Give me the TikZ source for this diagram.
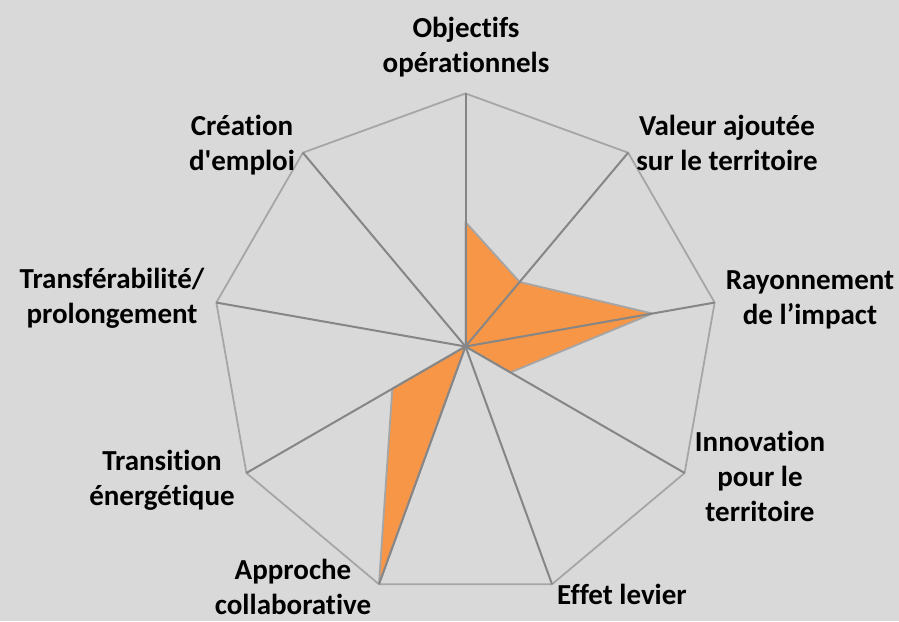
\documentclass[tikz,border=0pt]{standalone}
\usepackage{fontspec}
\setmainfont{Carlito}[Ligatures={NoCommon}]
\usetikzlibrary{positioning, calc}

\definecolor{chartbg}{HTML}{D9D9D9}
\definecolor{rimgray}{HTML}{A6A6A6}
\definecolor{spokegray}{HTML}{868686}
\definecolor{scoreorange}{HTML}{F79646}
\definecolor{scoreline}{HTML}{A5A5A5}

\begin{document}
\begin{tikzpicture}[x=1pt, y=1pt,
    rim/.style={draw=rimgray, line width=1.8pt, line join=round},
    spoke/.style={draw=spokegray, line width=2pt},
    score/.style={fill=scoreorange, draw=scoreline, line width=1.8pt, line join=round},
    lbl/.style={font=\bfseries\fontsize{29}{35}\selectfont, align=center, inner sep=0pt}]
    % Background
    \fill[chartbg] (0,0) rectangle (899,621);
    \useasboundingbox (0,0) rectangle (899,621);
    \coordinate (c) at (465.5,274.5);

    % Define the nine axes ends and the scores
    \foreach \i in {0,...,8}
        \coordinate (v\i) at ($(c)+({90-40*\i}:253)$);
    \foreach \s [count=\i from 0] in {0.492,0.333,0.75,0.205,0,1,0.334,0,0}
        \coordinate (d\i) at ($(c)+({90-40*\i}:253*\s)$);

    % Outer rim
    \draw[rim] (v0) -- (v1) -- (v2) -- (v3) -- (v4) -- (v5) -- (v6) -- (v7) -- (v8) -- cycle;

    % Score area
    \filldraw[score] (d0) -- (d1) -- (d2) -- (d3) -- (d4) -- (d5) -- (d6) -- (d7) -- (d8) -- cycle;

    % Spokes
    \foreach \i in {0,...,8}
        \draw[spoke] (c) -- (v\i);

    % Axis labels
    \node[lbl] (obj) at (466,574) {Objectifs\\op\'erationnels};
    \node[lbl] (val) at (727,478) {Valeur ajout\'ee\\sur le territoire};
    \node[lbl] (ray) at (810,321) {Rayonnement\\de l’impact};
    \node[lbl] (inn) at (760,145) {Innovation\\pour le\\territoire};
    \node[lbl] (lev) at (622,27) {Effet levier};
    \node[lbl] (app) at (293,34) {Approche\\collaborative};
    \node[lbl] (tra) at (162,141) {Transition\\\'energ\'etique};
    \node[lbl] (tsf) at (112,323) {Transf\'erabilit\'e/\\prolongement};
    \node[lbl] (cre) at (242,476) {Cr\'eation\\d\textquotesingle emploi};
\end{tikzpicture}
\end{document}
